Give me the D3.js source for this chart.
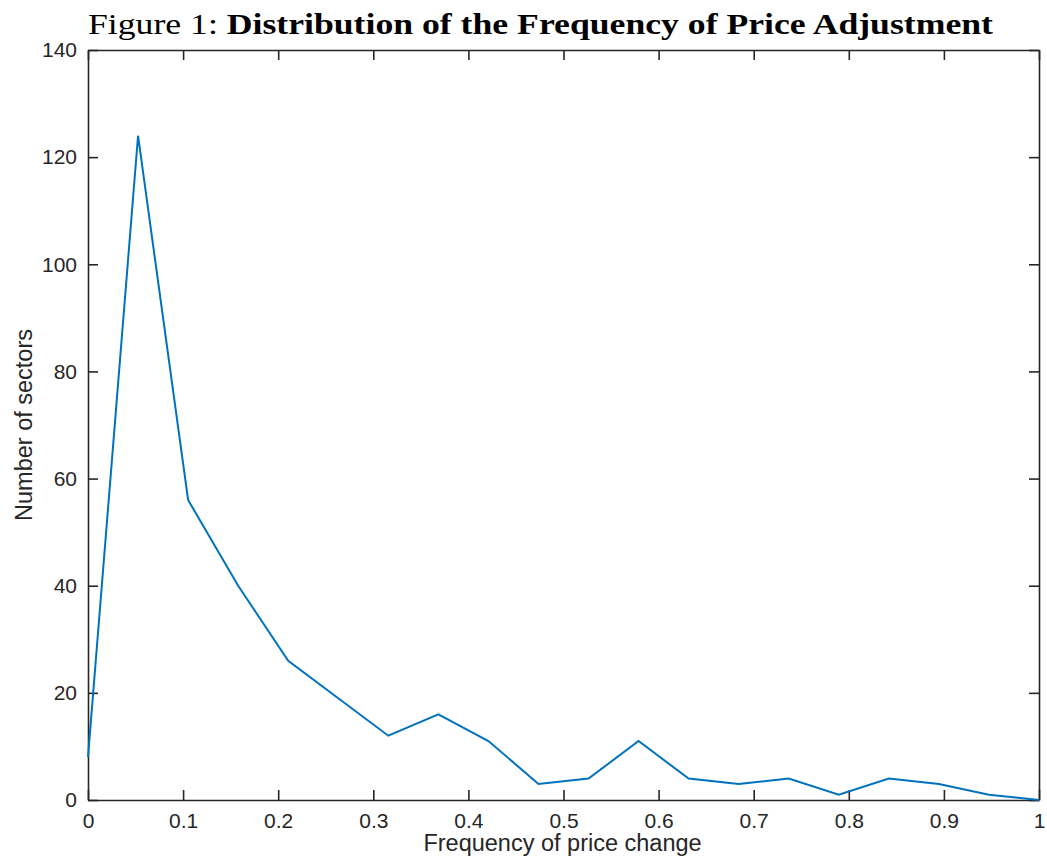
<!DOCTYPE html>
<html>
<head>
<meta charset="utf-8">
<script src="https://cdn.jsdelivr.net/npm/d3@7"></script>
<style>
  body { margin: 0; background: #fff; }
  svg { display: block; }
</style>
</head>
<body>
<script>
// Data: 20 bins, step 1/19.
var binCenters = d3.range(20).map(function (i) { return i / 19; }),
  sectorCounts = [8, 124, 56, 40, 26, 19, 12, 16, 11, 3, 4, 11, 4, 3, 4, 1, 4, 3, 1, 0],
  xTicks = [0, 0.1, 0.2, 0.3, 0.4, 0.5, 0.6, 0.7, 0.8, 0.9, 1],
  yTicks = [0, 20, 40, 60, 80, 100, 120, 140];

// Configuration parameters.
var width = 1047,
  height = 864,
  margin = { top: 50, right: 8, bottom: 64, left: 88 },
  innerW = width - margin.left - margin.right,
  innerH = height - margin.top - margin.bottom,
  tickLen = 10,
  axisColor = "#262626",
  lineColor = "#0072BD",
  sansFont = '"Liberation Sans", Helvetica, Arial, sans-serif';

var svg = d3.select("body").append("svg")
    .attr("width", width)
    .attr("height", height),
  g = svg.append("g")
    .attr("transform", "translate(" + margin.left + "," + margin.top + ")");

var x = d3.scaleLinear().domain([0, 1]).range([0, innerW]),
  y = d3.scaleLinear().domain([0, 140]).range([innerH, 0]);

// Title.
var title = svg.append("text")
    .attr("x", 88)
    .attr("y", 34)
    .style("font-family", '"Liberation Serif", "Times New Roman", serif')
    .style("font-size", "30px")
    .attr("fill", "#000");
title.append("tspan").text("Figure 1: ");
title.append("tspan").attr("font-weight", "bold")
  .text("Distribution of the Frequency of Price Adjustment");
title.attr("textLength", 905).attr("lengthAdjust", "spacingAndGlyphs");

// Axes (MATLAB box style, ticks inward on all four sides).
function styleAxis(sel) {
  sel.select(".domain").attr("stroke", axisColor).attr("stroke-width", 1.6);
  sel.selectAll(".tick line").attr("stroke", axisColor).attr("stroke-width", 1.6);
  sel.selectAll(".tick text")
    .attr("fill", axisColor)
    .style("font-family", sansFont)
    .style("font-size", "21px");
}

g.append("g")
    .attr("transform", "translate(0," + innerH + ")")
    .call(d3.axisBottom(x).tickValues(xTicks).tickFormat(d3.format("")).tickSizeInner(-tickLen).tickSizeOuter(0).tickPadding(13))
    .call(styleAxis);

g.append("g")
    .call(d3.axisTop(x).tickValues(xTicks).tickFormat("").tickSizeInner(-tickLen).tickSizeOuter(0))
    .call(styleAxis);

g.append("g")
    .call(d3.axisLeft(y).tickValues(yTicks).tickSizeInner(-tickLen).tickSizeOuter(0).tickPadding(11))
    .call(styleAxis);

g.append("g")
    .attr("transform", "translate(" + innerW + ",0)")
    .call(d3.axisRight(y).tickValues(yTicks).tickFormat("").tickSizeInner(-tickLen).tickSizeOuter(0))
    .call(styleAxis);

// Data line.
var line = d3.line()
  .x(function (d, i) { return x(binCenters[i]); })
  .y(function (d) { return y(d); });

g.append("path")
    .datum(sectorCounts)
    .attr("d", line)
    .attr("fill", "none")
    .attr("stroke", lineColor)
    .attr("stroke-width", 2)
    .attr("stroke-linejoin", "miter");

// Axis labels.
svg.append("text")
    .attr("x", margin.left + innerW / 2 - 1)
    .attr("y", 851)
    .attr("text-anchor", "middle")
    .attr("fill", axisColor)
    .style("font-family", sansFont)
    .style("font-size", "23.5px")
    .text("Frequency of price change");

svg.append("text")
    .attr("transform", "translate(32," + (margin.top + innerH / 2) + ") rotate(-90)")
    .attr("text-anchor", "middle")
    .attr("fill", axisColor)
    .style("font-family", sansFont)
    .style("font-size", "23.5px")
    .text("Number of sectors");
</script>
</body>
</html>
